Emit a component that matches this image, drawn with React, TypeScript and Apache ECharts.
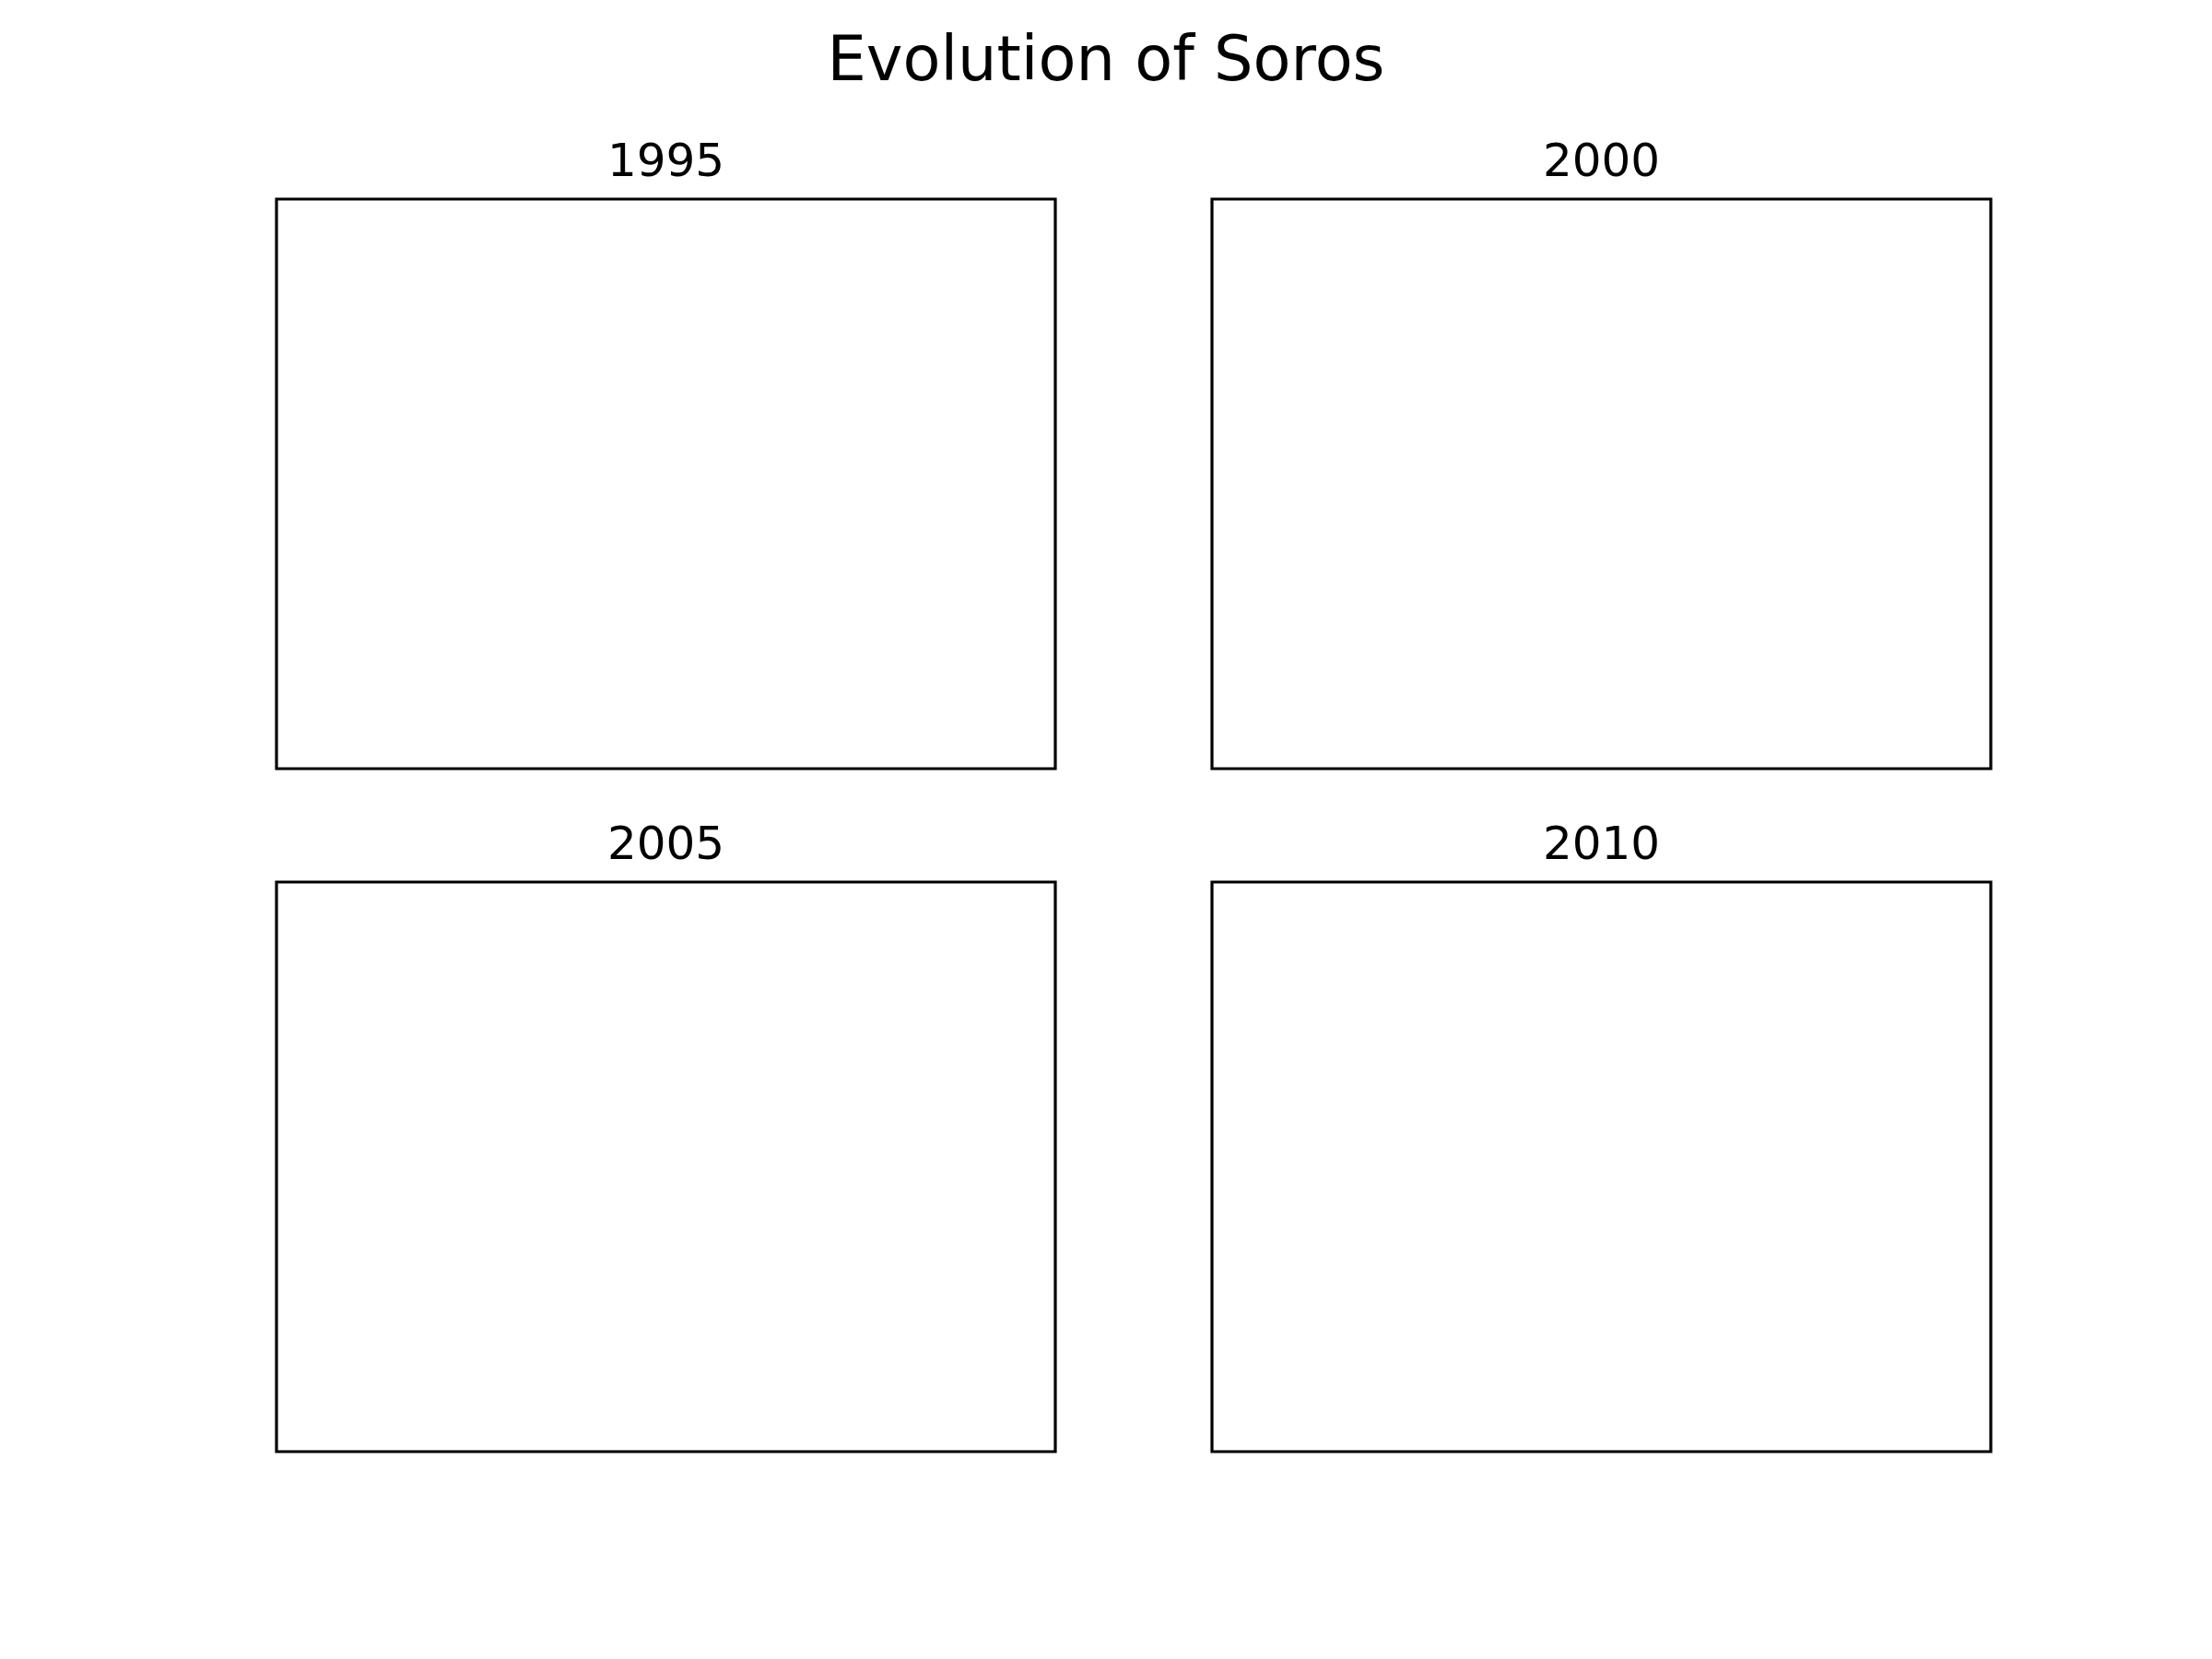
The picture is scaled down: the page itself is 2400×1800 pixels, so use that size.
import React, { useEffect, useRef } from "react";
import * as echarts from "echarts";

const chartTitle = "Evolution of Soros";
const panelTitles = ["1995", "2000", "2005", "2010"];
// No data is plotted in any panel (empty subplots)
const panelData: number[][][] = [[], [], [], []];

const colLefts = [300, 1315];
const rowTops = [216, 957];
const panelW = 845;
const panelH = 618;

export default function App() {
  const ref = useRef<HTMLDivElement>(null);
  useEffect(() => {
    if (!ref.current) return;
    const chart = echarts.init(ref.current, undefined, { renderer: "svg" });
    const grids: any[] = [];
    const xAxes: any[] = [];
    const yAxes: any[] = [];
    const series: any[] = [];
    const graphics: any[] = [];
    panelTitles.forEach((t, i) => {
      const left = colLefts[i % 2];
      const top = rowTops[Math.floor(i / 2)];
      grids.push({
        left,
        top,
        width: panelW,
        height: panelH,
        show: true,
        borderColor: "#000",
        borderWidth: 3.2,
        backgroundColor: "#fff",
        containLabel: false,
      });
      xAxes.push({ type: "value", gridIndex: i, min: 0, max: 1, show: false });
      yAxes.push({ type: "value", gridIndex: i, min: 0, max: 1, show: false });
      series.push({
        type: "line",
        xAxisIndex: i,
        yAxisIndex: i,
        data: panelData[i],
        showSymbol: false,
      });
      graphics.push({
        type: "text",
        x: left + panelW / 2,
        y: top - 42,
        style: {
          text: t,
          font: '50px "DejaVu Sans"',
          fill: "#000",
          textAlign: "center",
          textVerticalAlign: "middle",
        },
      });
    });
    graphics.push({
      type: "text",
      x: 1200,
      y: 64,
      style: {
        text: chartTitle,
        font: '67px "DejaVu Sans"',
        fill: "#000",
        textAlign: "center",
        textVerticalAlign: "middle",
      },
    });
    chart.setOption({
      animation: false,
      backgroundColor: "#fff",
      grid: grids,
      xAxis: xAxes,
      yAxis: yAxes,
      series,
      graphic: graphics,
    });
    return () => chart.dispose();
  }, []);
  return (
    <div
      ref={ref}
      style={{ position: "fixed", left: 0, top: 0, width: 2400, height: 1800 }}
    />
  );
}
